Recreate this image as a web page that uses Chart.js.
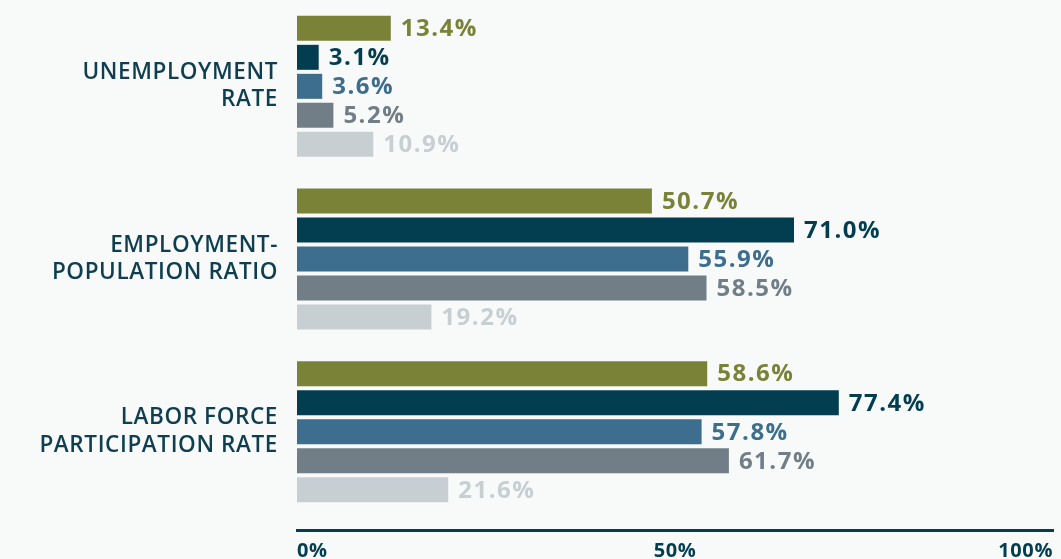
<!DOCTYPE html>
<html>
<head>
<meta charset="utf-8">
<script src="https://cdn.jsdelivr.net/npm/chart.js@4/dist/chart.umd.min.js"></script>
<style>
  html, body { margin: 0; padding: 0; background: #f8f9f9; }
  #wrap { width: 1061px; height: 559px; }
</style>
</head>
<body>
<div id="wrap"><canvas id="c" width="1061" height="559"></canvas></div>
<script>
const categories = [
  ['UNEMPLOYMENT', 'RATE'],
  ['EMPLOYMENT-', 'POPULATION RATIO'],
  ['LABOR FORCE', 'PARTICIPATION RATE']
];
const seriesNames = ['Series 1', 'Series 2', 'Series 3', 'Series 4', 'Series 5'];
const series1 = [13.4, 50.7, 58.6];
const series2 = [3.1, 71.0, 77.4];
const series3 = [3.6, 55.9, 57.8];
const series4 = [5.2, 58.5, 61.7];
const series5 = [10.9, 19.2, 21.6];
const axisTicks = [0, 50, 100];
const colors = ['#7a8238', '#023e50', '#3d6e8e', '#717e87', '#c8cfd3'];

const allSeries = [series1, series2, series3, series4, series5];
const FONT = '"Open Sans", Lato, sans-serif';

const spacingPlugin = {
  id: 'spacing',
  beforeLayout(chart) { chart.ctx.letterSpacing = '0.6px'; },
  beforeDraw(chart) { chart.ctx.letterSpacing = '0.6px'; }
};

const labelPlugin = {
  id: 'barLabels',
  afterDatasetsDraw(chart) {
    const ctx = chart.ctx;
    ctx.save();
    ctx.letterSpacing = '1.5px';
    ctx.font = '700 24px ' + FONT;
    ctx.textAlign = 'left';
    ctx.textBaseline = 'middle';
    chart.data.datasets.forEach((ds, i) => {
      const meta = chart.getDatasetMeta(i);
      meta.data.forEach((bar, j) => {
        ctx.fillStyle = ds.backgroundColor;
        ctx.fillText(ds.data[j].toFixed(1) + '%', bar.x + 10, bar.y + 1);
      });
    });
    ctx.restore();
  }
};

function noPad(s) { s.paddingTop = 0; s.paddingBottom = 0; s.paddingLeft = 0; s.paddingRight = 0; }

new Chart(document.getElementById('c'), {
  type: 'bar',
  data: {
    labels: categories,
    datasets: allSeries.map((d, i) => ({
      label: seriesNames[i],
      data: d,
      backgroundColor: colors[i],
      categoryPercentage: 0.84,
      barPercentage: 0.862,
      xAxisID: 'x'
    }))
  },
  options: {
    indexAxis: 'y',
    responsive: false,
    animation: false,
    layout: { padding: { top: 0, right: 8, bottom: 0, left: 0 } },
    plugins: { legend: { display: false }, tooltip: { enabled: false } },
    scales: {
      y: {
        position: 'left',
        grid: { display: false, drawTicks: false },
        border: { display: false },
        ticks: {
          color: '#0e3e50',
          font: { family: FONT, size: 22.5, weight: '600', lineHeight: 1.21 },
          padding: 19
        },
        afterFit(s) { s.width = 297; noPad(s); }
      },
      x: {
        position: 'bottom',
        weight: 0,
        min: 0,
        max: 108,
        grid: { display: false },
        border: { display: false },
        ticks: { display: false },
        afterFit(s) { s.height = 12; noPad(s); }
      },
      x2: {
        position: 'bottom',
        type: 'linear',
        weight: 1,
        min: 0,
        max: 100,
        grid: { display: false },
        border: { display: true, color: '#023e50', width: 3 },
        afterBuildTicks(s) { s.ticks = axisTicks.map(v => ({ value: v })); },
        ticks: {
          color: '#023e50',
          align: 'inner',
          padding: 1,
          font: { family: FONT, size: 20, weight: '700' },
          callback: v => v + '%'
        },
        afterFit(s) { s.height = 29; noPad(s); }
      }
    }
  },
  plugins: [spacingPlugin, labelPlugin]
});
</script>
</body>
</html>
